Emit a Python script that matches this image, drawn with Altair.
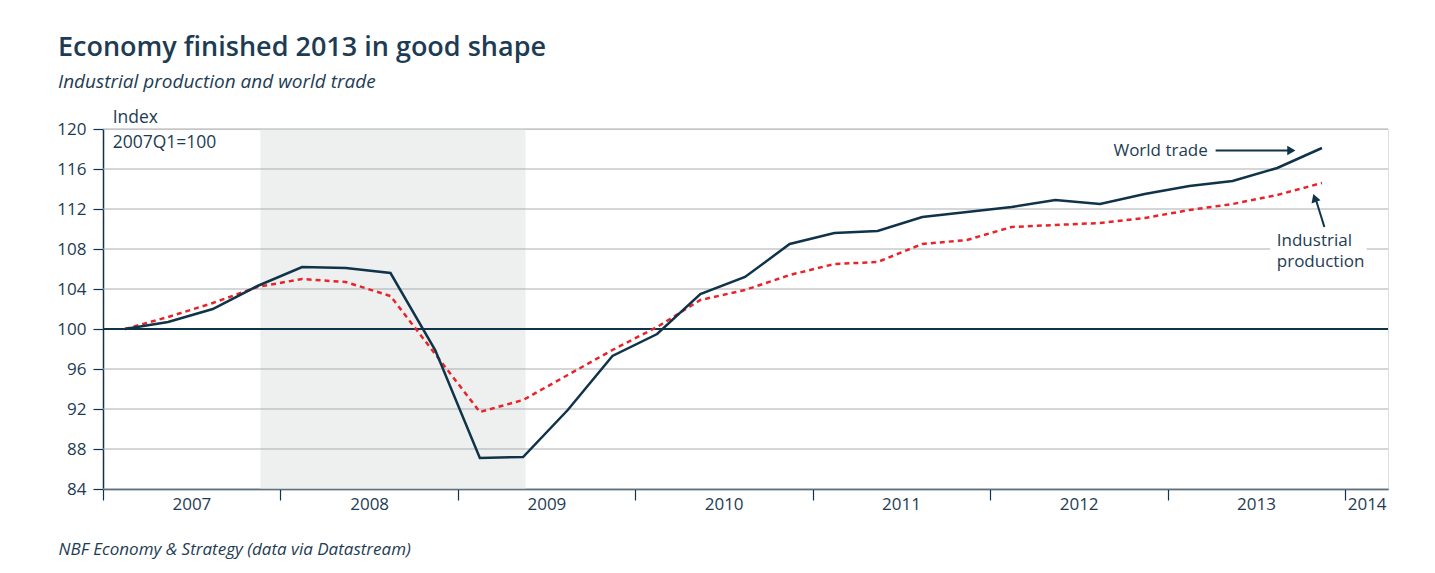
import altair as alt
import pandas as pd

# ---------------- data ----------------
years = [2007, 2008, 2009, 2010, 2011, 2012, 2013]
quarter_days = ["02-15", "05-15", "08-15", "11-15"]  # mid-quarter positions
world_trade = [100.0, 100.7, 102.0, 104.3,
               106.2, 106.1, 105.6, 97.9,
               87.1, 87.2, 91.9, 97.3,
               99.5, 103.5, 105.2, 108.5,
               109.6, 109.8, 111.2, 111.7,
               112.2, 112.9, 112.5, 113.5,
               114.3, 114.8, 116.1, 118.1]
industrial = [100.0, 101.2, 102.6, 104.2,
              105.0, 104.7, 103.3, 97.5,
              91.7, 92.9, 95.4, 97.9,
              100.2, 102.9, 103.9, 105.4,
              106.5, 106.7, 108.5, 108.9,
              110.2, 110.4, 110.6, 111.1,
              111.9, 112.5, 113.4, 114.6]
y_ticks = [84, 88, 92, 96, 100, 104, 108, 112, 116, 120]
year_ticks = [2007, 2008, 2009, 2010, 2011, 2012, 2013, 2014]
label_dates = ["2007-07-02", "2008-07-02", "2009-07-02", "2010-07-02",
               "2011-07-02", "2012-07-02", "2013-07-02", "2014-02-15"]
recession = {"start": ["2007-11-21"], "end": ["2009-05-20"]}

dates = [f"{y}-{d}" for y in years for d in quarter_days]

NAVY = "#0f3349"
TEXT = "#1d3c53"
RED = "#e8242b"
GRID = "#a9adb1"
FONT = "Open Sans"
W, H = 1285, 360


def dt(s):
    y, m, d = (int(p) for p in s.split("-"))
    return alt.DateTime(year=y, month=m, date=d, utc=True)


xscale = alt.Scale(domain=[dt("2007-01-01"), dt("2014-03-31")])
yscale = alt.Scale(domain=[84, 120], nice=False, zero=False)

df_wt = pd.DataFrame({"date": dates, "value": world_trade})
df_ip = pd.DataFrame({"date": dates, "value": industrial})
df_rec = pd.DataFrame(recession)
df_grid = pd.DataFrame({"v": [v for v in y_ticks if v != 100]})

# recession shading, carries the tick-only x axis (with source as title)
shade = alt.Chart(df_rec).mark_rect(color="#eef0ef").encode(
    x=alt.X("start:T", scale=xscale,
            axis=alt.Axis(orient="bottom",
                          values=[dt(f"{y}-01-01") for y in year_ticks],
                          labels=False, tickSize=11, tickColor=NAVY, tickWidth=1.2,
                          domainColor=NAVY, domainWidth=1.5, grid=False,
                          title="NBF Economy & Strategy (data via Datastream)",
                          titleFont=FONT, titleFontStyle="italic",
                          titleFontWeight="normal", titleFontSize=17,
                          titleColor=TEXT, titleAnchor="start", titleAlign="left",
                          titleX=-45, titleY=60, titleBaseline="middle")),
    x2="end:T",
    y=alt.Y(datum=120, scale=yscale, axis=None),
    y2=alt.Y2(datum=84),
)

grid = alt.Chart(df_grid).mark_rule(color=GRID, strokeWidth=1).encode(
    y=alt.Y("v:Q", scale=yscale,
            axis=alt.Axis(orient="left", values=y_ticks, tickSize=10,
                          tickColor=NAVY, tickWidth=1.2,
                          domainColor=NAVY, domainWidth=1.5, grid=False,
                          labelFont=FONT, labelFontSize=17, labelColor=TEXT,
                          labelPadding=7, title=None))
)

base100 = alt.Chart(pd.DataFrame({"v": [100]})).mark_rule(
    color=NAVY, strokeWidth=2).encode(y=alt.Y("v:Q", scale=yscale, axis=None))

bg = alt.Chart(pd.DataFrame({"x1": ["2013-07-31"], "x2": ["2014-02-15"],
                             "y1": [109.0], "y2": [107.0]})).mark_rect(color="white").encode(
    x=alt.X("x1:T", scale=xscale, axis=None), x2="x2:T",
    y=alt.Y("y1:Q", scale=yscale, axis=None), y2="y2:Q")

# industrial production line carries the label-only x axis
ip_line = alt.Chart(df_ip).mark_line(color=RED, strokeWidth=2.5,
                                     strokeDash=[5, 4]).encode(
    x=alt.X("date:T", scale=xscale,
            axis=alt.Axis(orient="bottom",
                          values=[dt(s) for s in label_dates], format="%Y",
                          tickSize=0, domain=False, grid=False, labelAlign="center",
                          labelFont=FONT, labelFontSize=17, labelColor=TEXT,
                          labelPadding=7, title=None)),
    y=alt.Y("value:Q", scale=yscale, axis=None),
)

wt_line = alt.Chart(df_wt).mark_line(color=NAVY, strokeWidth=2.5).encode(
    x=alt.X("date:T", scale=xscale, axis=None),
    y=alt.Y("value:Q", scale=yscale, axis=None),
)

# annotations (data coordinates)
ann_text = pd.DataFrame({
    "date": ["2013-03-25", "2013-08-14", "2007-01-21", "2007-01-21"],
    "value": [117.85, 109.6, 121.1, 118.65],
    "label": ["World trade", "Industrial\nproduction", "Index", "2007Q1=100"],
})
txt_r = alt.Chart(ann_text.iloc[[0]]).mark_text(
    align="right", baseline="middle", font=FONT, fontSize=17, color=TEXT).encode(
    x=alt.X("date:T", scale=xscale, axis=None),
    y=alt.Y("value:Q", scale=yscale, axis=None), text="label:N")
txt_l = alt.Chart(ann_text.iloc[[1]]).mark_text(
    align="left", baseline="top", font=FONT, fontSize=17, color=TEXT,
    lineBreak="\n", lineHeight=20.5).encode(
    x=alt.X("date:T", scale=xscale, axis=None),
    y=alt.Y("value:Q", scale=yscale, axis=None), text="label:N")
txt_idx = alt.Chart(ann_text.iloc[2:4]).mark_text(
    align="left", baseline="middle", font=FONT, fontSize=17.5, color=TEXT).encode(
    x=alt.X("date:T", scale=xscale, axis=None),
    y=alt.Y("value:Q", scale=yscale, axis=None), text="label:N")

arrows = pd.DataFrame({
    "x1": ["2013-04-10", "2013-11-20"], "x2": ["2013-09-10", "2013-11-02"],
    "y1": [117.85, 110.2], "y2": [117.85, 113.0],
})
arrow_lines = alt.Chart(arrows).mark_rule(color=NAVY, strokeWidth=2).encode(
    x=alt.X("x1:T", scale=xscale, axis=None), x2="x2:T",
    y=alt.Y("y1:Q", scale=yscale, axis=None), y2="y2:Q")

heads = pd.DataFrame({"date": ["2013-09-13", "2013-10-31"],
                      "value": [117.85, 113.1], "angle": [90, 341]})
arrow_heads = alt.Chart(heads).mark_point(
    shape="triangle-up", filled=True, color=NAVY, size=90, opacity=1).encode(
    x=alt.X("date:T", scale=xscale, axis=None),
    y=alt.Y("value:Q", scale=yscale, axis=None),
    angle=alt.Angle("angle:Q", scale=None))

chart = alt.layer(
    shade, grid, base100, bg, ip_line, wt_line,
    txt_r, txt_l, txt_idx, arrow_lines, arrow_heads,
).resolve_axis(x="independent", y="independent").properties(
    width=W, height=H,
    title=alt.TitleParams(
        text="Economy finished 2013 in good shape",
        subtitle="Industrial production and world trade",
        anchor="start", frame="group", dx=-45, offset=16,
        font=FONT, fontSize=27, fontWeight=600, color=TEXT,
        subtitleFont=FONT, subtitleFontStyle="italic", subtitleFontSize=19,
        subtitleColor=TEXT, subtitlePadding=11),
    autosize=alt.AutoSizeParams(type="none"),
    padding={"left": 95, "top": 121, "right": 39, "bottom": 76},
).configure_view(stroke=None).configure(background="white")

chart.save("out.html", embed_options={"renderer": "svg", "actions": False})
